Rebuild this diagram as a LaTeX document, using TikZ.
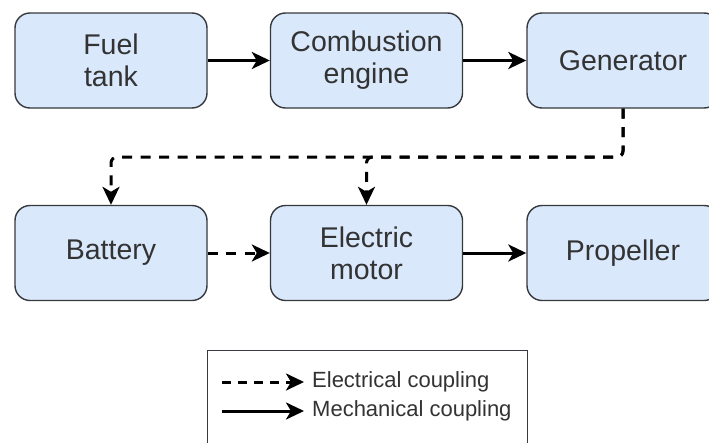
\documentclass[tikz,border=0pt]{standalone}
\usepackage{fontspec}
\setmainfont{Liberation Sans}
\usetikzlibrary{arrows.meta}
\definecolor{boxfill}{HTML}{DAE8FC}
\definecolor{boxline}{HTML}{36393D}
\definecolor{txt}{HTML}{333333}
\begin{document}
\begin{tikzpicture}[x=1pt,y=-1pt,
  block/.style={draw=boxline, line width=1.4pt, fill=boxfill, rounded corners=15pt,
    minimum width=192pt, minimum height=95pt, inner sep=0pt, align=center,
    text=txt, font=\fontsize{28.5}{32}\selectfont},
  conn/.style={line width=3pt, -{Stealth[length=18pt,width=17pt,inset=5pt]}},
  elec/.style={conn, dash pattern=on 10pt off 8.5pt},
  mech/.style={conn},
  legtext/.style={anchor=west, inner sep=0pt, text=txt, font=\fontsize{22}{25}\selectfont}]
\useasboundingbox (0,0) rectangle (709,442);
\fill[white] (0,0) rectangle (709,442);
\node[block] (fuel) at (111,60.5) {Fuel\\tank};
\node[block] (comb) at (366.5,60.5) {Combustion\\engine};
\node[block] (gen) at (623,60.5) {Generator};
\node[block] (bat) at (111,253) {Battery};
\node[block] (mot) at (366.5,253) {Electric\\motor};
\node[block] (prop) at (623,253) {Propeller};
\draw[mech] (fuel) -- (comb);
\draw[mech] (comb) -- (gen);
\draw[mech] (mot) -- (prop);
\draw[elec] (bat) -- (mot);
\coordinate (split) at (366.5,157);
\draw[elec, rounded corners=6pt] (gen.south) |- (split) -| (bat.north);
\draw[elec, rounded corners=6pt] (gen.south) |- (split) -- (mot.north);
\node[draw=boxline, line width=1.2pt, fill=white, minimum width=320pt, minimum height=112pt, anchor=north west] (legend) at (207,350) {};
\coordinate (l1a) at (222,382);
\coordinate (l1b) at (304,382);
\coordinate (l2a) at (222,411);
\coordinate (l2b) at (304,411);
\draw[elec, dash pattern=on 9pt off 7pt] (l1a) -- (l1b);
\draw[mech] (l2a) -- (l2b);
\node[legtext] (t1) at (312,382) {Electrical coupling};
\node[legtext] (t2) at (312,411) {Mechanical coupling};
\end{tikzpicture}
\end{document}
